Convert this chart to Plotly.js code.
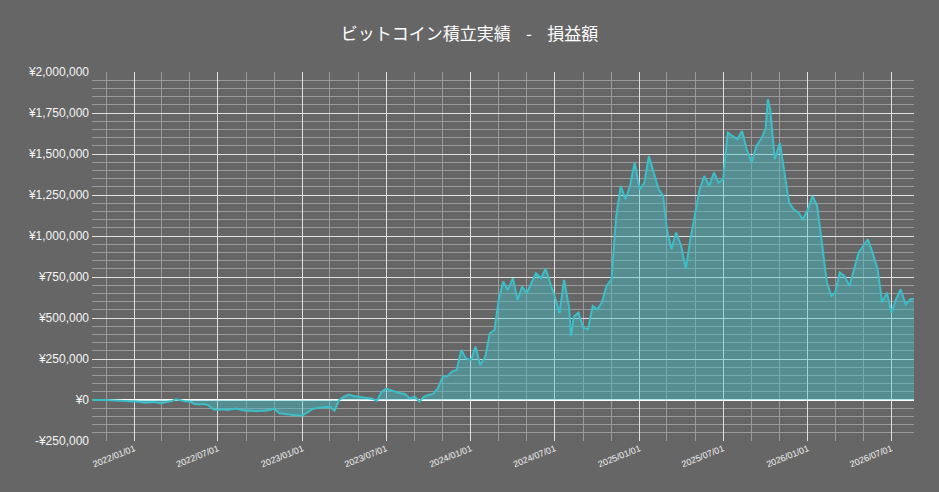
<!DOCTYPE html>
<html>
<head>
<meta charset="utf-8">
<script src="https://cdn.plot.ly/plotly-3.0.1.min.js"></script>
<style>
  html, body { margin: 0; padding: 0; background: #666666; }
  #graph { width: 939px; height: 492px; }
</style>
</head>
<body>
<div id="graph"></div>
<script>
// 損益額 (yen)
var dates = [
  '2021-10-01','2021-10-11','2021-10-21','2021-11-01','2021-11-11','2021-11-21','2021-12-01','2021-12-11','2021-12-21',
  '2022-01-01','2022-01-11','2022-01-21','2022-02-01','2022-02-11','2022-02-21','2022-03-01','2022-03-11','2022-03-21',
  '2022-04-01','2022-04-11','2022-04-21','2022-05-01','2022-05-11','2022-05-21','2022-06-01','2022-06-11','2022-06-21',
  '2022-07-01','2022-07-11','2022-07-21','2022-08-01','2022-08-11','2022-08-21','2022-09-01','2022-09-11','2022-09-21',
  '2022-10-01','2022-10-11','2022-10-21','2022-11-01','2022-11-11','2022-11-21','2022-12-01','2022-12-11','2022-12-21',
  '2023-01-01','2023-01-11','2023-01-21','2023-02-01','2023-02-11','2023-02-21','2023-03-01','2023-03-11','2023-03-21',
  '2023-04-01','2023-04-11','2023-04-21','2023-05-01','2023-05-11','2023-05-21','2023-06-01','2023-06-11','2023-06-21',
  '2023-07-01','2023-07-11','2023-07-21','2023-08-01','2023-08-11','2023-08-21','2023-09-01','2023-09-11','2023-09-21',
  '2023-10-01','2023-10-11','2023-10-21','2023-11-01','2023-11-11','2023-11-21','2023-12-01','2023-12-11','2023-12-21',
  '2024-01-01','2024-01-11','2024-01-21','2024-02-01','2024-02-11','2024-02-21','2024-03-01','2024-03-11','2024-03-21',
  '2024-04-01','2024-04-11','2024-04-21','2024-05-01','2024-05-11','2024-05-21','2024-06-01','2024-06-11','2024-06-21',
  '2024-07-01','2024-07-11','2024-07-21','2024-08-01','2024-08-05','2024-08-11','2024-08-21','2024-09-01','2024-09-11','2024-09-21',
  '2024-10-01','2024-10-11','2024-10-21','2024-11-01','2024-11-11','2024-11-21','2024-12-01','2024-12-11','2024-12-21',
  '2025-01-01','2025-01-11','2025-01-21','2025-02-01','2025-02-11','2025-02-21','2025-03-01','2025-03-11','2025-03-21',
  '2025-04-01','2025-04-11','2025-04-21','2025-05-01','2025-05-11','2025-05-21','2025-06-01','2025-06-11','2025-06-21',
  '2025-07-01','2025-07-11','2025-07-21','2025-08-01','2025-08-11','2025-08-21','2025-09-01','2025-09-11','2025-09-21',
  '2025-10-01','2025-10-06','2025-10-11','2025-10-21','2025-11-01','2025-11-11','2025-11-21','2025-12-01','2025-12-11','2025-12-21',
  '2026-01-01','2026-01-11','2026-01-21','2026-02-01','2026-02-11','2026-02-21','2026-03-01','2026-03-11','2026-03-21',
  '2026-04-01','2026-04-11','2026-04-21','2026-05-01','2026-05-11','2026-05-21','2026-06-01','2026-06-11','2026-06-21',
  '2026-07-01','2026-07-11','2026-07-21','2026-08-01','2026-08-11','2026-08-19'
];

var pnl = [
  0, 1000, -1000, 0, -1000, -2000, -3000, -4000, -6000,
  -8000, -10000, -16000, -15000, -12000, -17000, -20000, -12000, -8000,
  4000, -4000, -8000, -9000, -24000, -28000, -24000, -33000, -57000,
  -61000, -56000, -61000, -57000, -52000, -61000, -65000, -64000, -69000,
  -65000, -66000, -61000, -53000, -81000, -85000, -86000, -89000, -94000,
  -95000, -77000, -57000, -49000, -45000, -41000, -42000, -65000, 0,
  20000, 33000, 24000, 20000, 16000, 12000, 8000, -5000, 49000,
  69000, 58000, 51000, 41000, 37000, 10000, 20000, -10000, 20000,
  30000, 37000, 71000, 142000, 146000, 173000, 183000, 305000, 254000,
  244000, 325000, 213000, 264000, 407000, 427000, 610000, 722000, 671000,
  742000, 610000, 691000, 651000, 712000, 773000, 742000, 800000, 712000,
  630000, 529000, 732000, 560000, 390000, 508000, 533000, 440000, 431000, 573000,
  553000, 594000, 695000, 736000, 1122000, 1305000, 1224000, 1305000, 1447000,
  1285000, 1325000, 1488000, 1387000, 1285000, 1244000, 1041000, 919000, 1021000,
  939000, 800000, 980000, 1122000, 1285000, 1366000, 1305000, 1387000, 1325000,
  1346000, 1630000, 1610000, 1590000, 1640000, 1530000, 1447000, 1549000, 1590000,
  1651000, 1834000, 1773000, 1468000, 1569000, 1387000, 1204000, 1163000, 1143000, 1102000,
  1163000, 1244000, 1183000, 939000, 716000, 634000, 655000, 777000, 756000,
  695000, 797000, 899000, 939000, 980000, 899000, 797000, 594000, 655000,
  533000, 614000, 675000, 583000, 614000, 618000
];

// every two months: minor grid
var minorTicks = [
  '2021-11-01','2022-03-01','2022-05-01','2022-09-01','2022-11-01',
  '2023-03-01','2023-05-01','2023-09-01','2023-11-01',
  '2024-03-01','2024-05-01','2024-09-01','2024-11-01',
  '2025-03-01','2025-05-01','2025-09-01','2025-11-01',
  '2026-03-01','2026-05-01'
];

var yTickVals = [-250000, 0, 250000, 500000, 750000, 1000000, 1250000, 1500000, 1750000, 2000000];
var yTickText = ['-¥250,000', '¥0', '¥250,000', '¥500,000', '¥750,000', '¥1,000,000',
                 '¥1,250,000', '¥1,500,000', '¥1,750,000', '¥2,000,000'];

var sp = '\u00a0\u00a0\u00a0\u00a0';

var trace = {
  x: dates,
  y: pnl,
  type: 'scatter',
  mode: 'lines',
  fill: 'tozeroy',
  fillcolor: 'rgba(64,196,204,0.42)',
  line: { color: 'rgb(60,190,200)', width: 2 },
  hoverinfo: 'x+y'
};

var layout = {
  width: 939,
  height: 492,
  paper_bgcolor: '#666666',
  plot_bgcolor: '#666666',
  margin: { l: 92, r: 25, t: 72, b: 51 },
  showlegend: false,
  title: {
    text: 'ビットコイン積立実績' + sp + '-' + sp + '損益額',
    font: { family: 'Noto Sans CJK JP, sans-serif', size: 17, color: '#ffffff' },
    x: 0.5,
    xanchor: 'center',
    y: 0.93,
    yanchor: 'middle'
  },
  xaxis: {
    type: 'date',
    range: ['2021-10-01', '2026-08-19'],
    tickmode: 'linear',
    tick0: '2022-01-01',
    dtick: 'M6',
    tickformat: '%Y/%m/%d',
    tickangle: -22,
    tickfont: { family: 'Liberation Sans, Arial, sans-serif', size: 9, color: '#f2f2f2' },
    showgrid: true,
    gridcolor: '#e0e0e0',
    gridwidth: 1,
    minor: { tickmode: 'array', tickvals: minorTicks, showgrid: true, gridcolor: '#9a9a9a', gridwidth: 1 },
    zeroline: false,
    showline: false,
    ticks: ''
  },
  yaxis: {
    range: [-250000, 2000000],
    tickmode: 'array',
    tickvals: yTickVals,
    ticktext: yTickText,
    tickfont: { family: 'Liberation Sans, Arial, sans-serif', size: 12, color: '#f5f5f5' },
    ticklabelstandoff: 2,
    showgrid: true,
    gridcolor: '#e0e0e0',
    gridwidth: 1,
    minor: { tickmode: 'linear', tick0: 0, dtick: 50000, showgrid: true, gridcolor: '#9a9a9a', gridwidth: 1 },
    zeroline: true,
    zerolinecolor: '#ffffff',
    zerolinewidth: 1.5,
    showline: false,
    ticks: ''
  }
};

Plotly.newPlot('graph', [trace], layout, { displayModeBar: false, staticPlot: true });
</script>
</body>
</html>
